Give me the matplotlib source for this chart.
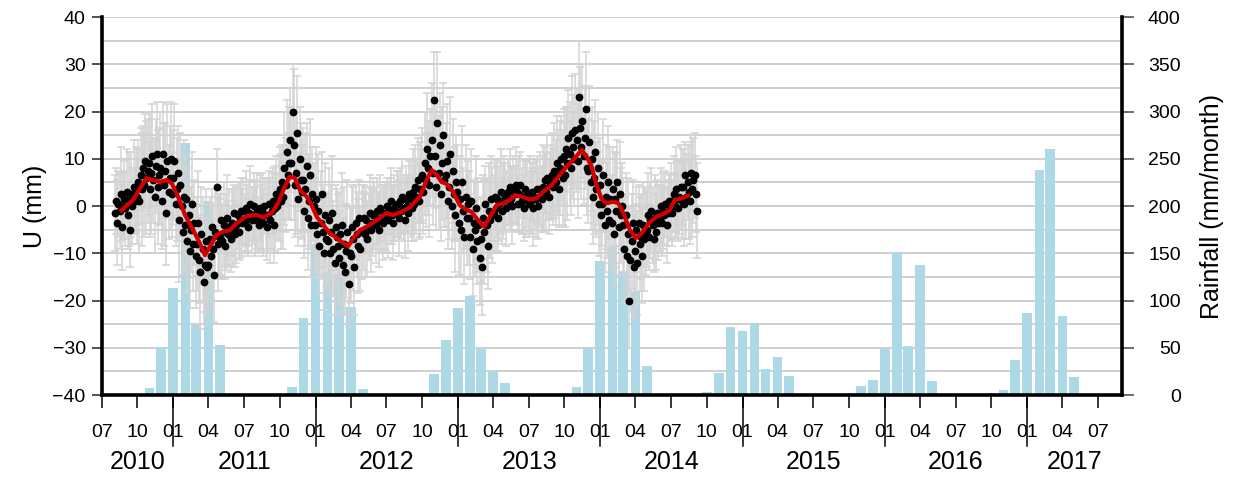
import matplotlib
matplotlib.use('Agg')
import matplotlib.pyplot as plt
import matplotlib.dates as mdates
from matplotlib.ticker import MultipleLocator
import matplotlib.transforms as mtransforms
import pandas as pd

plt.rcParams['font.family'] = ['Liberation Sans', 'DejaVu Sans']

# 月雨量 (mm/month), 2010-07 ~ 2017-08
rain_start = '2010-07-01'
rain = [0, 0, 1, 1, 7, 51,
        113, 267, 74, 205, 53, 1, 0, 0, 1, 1, 8, 82,
        160, 130, 128, 93, 6, 1, 0, 0, 1, 2.5, 22, 58.5,
        92, 105, 49, 25, 13, 1, 1, 0, 1, 2.5, 9, 50,
        142, 158, 131, 110, 31, 1, 1, 0, 1.5, 3, 23, 72,
        68, 76, 27.5, 40, 20, 1.5, 1.5, 0, 1, 2.5, 9.5, 16,
        49, 151, 52, 138, 15, 1, 1, 0, 1, 2, 5.5, 37,
        87, 238, 260, 84, 19, 0, 0, 0]

# 位移觀測 (每 3 天一筆), 每列約一個月
u_start = '2010-08-04'
u_vals = [
    -1.5, 1.0, -3.5, 0.5, -1.0, 2.5, -4.5, 0.0, 1.5,                # 2010-08
    -0.5, 3.0, -2.0, 1.5, -5.0, 2.5, 0.0, 4.0, 1.0, 3.5,
    2.0, 5.0, 1.0, 6.5, 3.5, 8.0, 4.5, 9.5, 6.0, 7.5,
    9.0, 3.5, 7.0, 10.5, 5.5, 2.0, 8.5, 11.0, 4.0, 6.5,
    8.0, 1.0, 11.0, 4.5, 7.5, -1.5, 9.5, 3.0, 6.0, 10.0, 2.5,
    6.0, 9.5, 0.5, 3.5, 7.0, -3.0, 4.5, 0.0, -5.5, 2.0,             # 2011-01
    -4.0, 1.5, -7.5, -2.0, -9.5, -5.0, 0.5, -8.0, -3.5, -10.5,
    -8.0, -3.5, -11.5, -14.0, -6.0, -9.0, -16.0, -12.5, -7.5, -13.0,
    -12.5, -7.0, -10.5, -4.5, -9.0, -14.5, -5.5, 4.0, -8.0, -6.5,
    -6.5, -3.0, -7.5, -4.0, -8.5, -5.5, -2.5, -6.0, -4.5, -7.0,
    -3.5, -5.0, -1.5, -6.0, -4.0, -2.0, -5.5, -3.0, -1.0, -3.5,
    -1.0, -3.5, -0.5, -2.5, -4.5, -1.5, 0.5, -3.0, -2.0, 0.0, -2.5,
    -3.0, -1.0, -4.0, -0.5, -2.5, -1.0, -3.5, 0.0, -2.0, -4.5,
    -2.0, 0.5, -3.0, -1.0, 1.0, -4.0, -0.5, 2.5, 0.0, 1.5,
    3.5, 1.0, 5.0, 2.0, 8.0, 4.5, 11.5, 6.5, 9.0, 14.0,
    9.0, 20.0, 13.0, 4.5, 7.0, 15.5, 1.5, 10.0, 5.5, 3.0,
    5.5, -1.0, 3.5, 8.5, -2.5, 1.0, 6.5, -4.0, 2.5, 0.0,
    -4.0, 1.5, -6.0, -1.0, -8.5, -3.5, 2.5, -5.5, -10.0, -2.0, -7.0,  # 2012-01
    -7.5, -3.0, -10.0, -5.5, -1.5, -9.0, -12.0, -4.5, -6.5, -8.5,
    -11.0, -6.0, -4.0, -12.5, -8.0, -14.0, -9.5, -5.5, -16.5, -10.0,
    -10.5, -4.5, -7.0, -13.0, -3.5, -6.0, -8.5, -2.5, -9.0, -5.5,
    -5.5, -2.5, -6.0, -3.0, -7.0, -4.5, -1.5, -5.0, -3.5, -2.0,
    -2.0, -4.0, -1.0, -3.0, -5.0, -0.5, -2.5, -3.5, -1.5, -2.0,
    -2.5, 0.0, -3.0, -1.0, 1.0, -2.0, -3.5, -0.5, -1.5, 0.5,
    0.5, -2.5, 1.0, -1.0, 2.0, -0.5, -3.0, 1.5, 0.0, -1.5, 2.5,
    1.5, -0.5, 3.0, 0.5, 4.0, 2.0, 5.5, 1.0, 3.5, 6.0,
    6.5, 3.0, 9.0, 5.5, 12.0, 8.0, 4.5, 10.5, 14.0, 7.0,
    22.5, 10.5, 4.0, 17.5, 7.0, 13.0, 2.5, 9.0, 15.0, 5.5,
    6.5, 9.5, 1.0, 4.0, 11.0, 0.0, 7.5, 2.5, -2.0, 5.0,
    3.0, -3.5, 1.5, -5.0, 5.0, -1.0, -6.5, 2.0, -2.5, 0.5,           # 2013-01
    -2.5, -6.5, 1.0, -9.0, -3.5, -5.0, -0.5, -7.5, -4.0, -11.0,
    -7.0, -13.0, -2.5, -5.5, 0.5, -4.0, -8.5, -1.0, -3.0, 1.5, -2.0,
    -1.5, 2.0, -0.5, 1.5, -2.5, 0.5, 3.0, -1.0, 1.0, 2.5,
    2.0, -0.5, 3.0, 1.0, 4.0, 1.5, 0.0, 3.5, 2.5, 4.5,
    3.0, 0.5, 2.5, 4.5, 1.0, 2.0, -0.5, 3.5, 1.5, 2.5,
    0.5, 2.5, 1.0, 3.0, -0.5, 2.0, 1.5, 3.5, 0.0, 2.0,
    3.5, 1.5, 4.0, 2.5, 5.5, 3.0, 6.0, 2.0, 4.5, 5.0,
    6.5, 4.0, 7.5, 5.0, 9.0, 7.0, 3.5, 8.0, 10.0, 6.0,
    10.5, 6.5, 12.0, 9.0, 14.5, 11.0, 8.0, 15.5, 12.5, 10.0, 16.0,
    14.0, 9.5, 23.0, 16.5, 12.5, 18.0, 10.5, 14.5, 20.5, 8.0,
    7.5, 13.5, 5.0, 10.0, 2.0, 6.0, 11.5, 3.5, 8.0, 0.5,
    4.5, -2.0, 0.5, 6.5, -4.0, 2.0, -1.0, 5.0, -3.0, 1.5,           # 2014-01
    -3.5, 3.5, -6.0, 1.5, -1.0, 5.0, -4.5, 2.5, -2.0, 0.0,
    -4.0, -9.0, -2.0, -10.5, -6.0, -20.0, -11.5, -7.5, -3.5, -13.0,
    -9.5, -5.0, -12.0, -3.5, -8.0, -6.5, -10.5, -4.0, -7.0, -5.5,
    -5.0, -2.0, -6.5, -3.0, -1.0, -4.0, -7.0, -2.5, -5.5, -1.5, -3.5,
    -2.5, 0.0, -3.5, -1.0, -2.0, 0.5, -4.0, -1.5, 1.0, -0.5,
    1.0, -1.5, 2.5, 0.0, 3.5, 1.5, -0.5, 2.0, 4.0, 1.0,
    4.0, 0.5, 6.5, 2.0, 5.0, 3.0, 1.0, 7.0, 3.5, 5.5,
    6.5, 2.5, -1.0]
u_err = [
    8, 7, 9, 7, 8, 10, 9, 7, 8,
    8, 9, 7, 10, 8, 9, 8, 10, 7, 9,
    10, 9, 11, 10, 12, 9, 11, 10, 12, 11,
    11, 10, 13, 11, 9, 12, 10, 11, 12, 10,
    12, 10, 11, 13, 10, 11, 12, 10, 11, 12, 9,
    10, 12, 9, 11, 10, 13, 11, 10, 9, 12,
    10, 9, 11, 10, 12, 9, 11, 10, 9, 11,
    10, 11, 9, 12, 10, 11, 9, 10, 11, 10,
    10, 9, 11, 8, 9, 10, 9, 8, 10, 9,
    8, 7, 8, 9, 7, 8, 9, 7, 8, 7,
    7, 8, 6, 7, 8, 7, 6, 8, 7, 7,
    7, 6, 8, 7, 6, 7, 8, 7, 6, 7, 8,
    7, 8, 6, 7, 7, 8, 7, 6, 8, 7,
    8, 7, 9, 8, 7, 8, 9, 8, 7, 9,
    9, 10, 8, 11, 12, 10, 11, 9, 12, 11,
    12, 10, 16, 11, 13, 12, 10, 11, 12, 10,
    11, 10, 12, 9, 11, 10, 12, 11, 10, 9,
    10, 11, 9, 12, 10, 11, 9, 10, 12, 11, 10,
    10, 11, 9, 10, 12, 10, 11, 9, 10, 11,
    10, 9, 11, 10, 12, 9, 10, 11, 9, 10,
    10, 9, 11, 10, 8, 9, 10, 8, 9, 10,
    8, 7, 9, 7, 8, 7, 8, 9, 7, 8,
    7, 8, 7, 6, 8, 7, 7, 8, 6, 7,
    7, 6, 8, 7, 7, 6, 8, 7, 6, 7,
    7, 8, 7, 6, 8, 7, 8, 7, 6, 8, 7,
    8, 7, 9, 8, 9, 8, 9, 8, 10, 9,
    10, 9, 11, 10, 12, 10, 11, 10, 12, 11,
    10, 11, 9, 15, 12, 11, 10, 12, 11, 10,
    11, 12, 10, 11, 12, 9, 11, 10, 12, 10,
    10, 11, 9, 10, 12, 9, 10, 11, 10, 9,
    10, 9, 11, 10, 9, 10, 11, 9, 10, 10,
    9, 10, 9, 11, 8, 10, 9, 10, 8, 9, 10,
    8, 7, 9, 8, 7, 8, 9, 7, 8, 8,
    7, 8, 7, 6, 8, 7, 8, 7, 6, 8,
    7, 6, 8, 7, 7, 8, 7, 6, 8, 7,
    7, 8, 7, 6, 8, 7, 8, 7, 7, 6,
    8, 7, 9, 8, 7, 8, 9, 8, 7, 8,
    9, 8, 10, 9, 10, 9, 8, 10, 9, 10,
    10, 11, 9, 12, 10, 11, 10, 12, 11, 10, 12,
    11, 12, 12, 13, 11, 12, 10, 11, 12, 10,
    11, 12, 10, 11, 10, 12, 11, 10, 12, 11,
    10, 11, 9, 12, 10, 11, 10, 12, 9, 11,
    10, 9, 11, 10, 12, 9, 10, 11, 10, 9,
    10, 11, 9, 10, 12, 10, 11, 10, 9, 11,
    10, 9, 11, 8, 10, 9, 10, 9, 11, 9,
    8, 9, 7, 8, 9, 8, 7, 9, 8, 7, 8,
    7, 8, 7, 8, 6, 7, 8, 7, 6, 7,
    8, 7, 8, 7, 9, 8, 7, 8, 9, 8,
    8, 9, 7, 9, 8, 10, 9, 8, 10, 9,
    9, 8, 10]

# 平滑曲線 (紅線)
red_dates = ['2010-08-21', '2010-09-20', '2010-10-07', '2010-10-24', '2010-11-10', '2010-11-28',
             '2010-12-15', '2010-12-28',
             '2011-01-13', '2011-01-31', '2011-02-21', '2011-03-10', '2011-03-23', '2011-04-05',
             '2011-04-22', '2011-05-09', '2011-05-26', '2011-06-12', '2011-07-08', '2011-08-03',
             '2011-08-20', '2011-09-10', '2011-09-27', '2011-10-14', '2011-10-27', '2011-11-09',
             '2011-11-22', '2011-12-09', '2011-12-22',
             '2012-01-04', '2012-01-21', '2012-02-07', '2012-02-20', '2012-03-08', '2012-03-25',
             '2012-04-07', '2012-04-24', '2012-05-11', '2012-06-06', '2012-07-01', '2012-07-18',
             '2012-08-09', '2012-08-30', '2012-09-25', '2012-10-12', '2012-10-25', '2012-11-07',
             '2012-11-19', '2012-12-02', '2012-12-19',
             '2013-01-05', '2013-01-23', '2013-02-04', '2013-02-21', '2013-03-08', '2013-03-24',
             '2013-04-10', '2013-04-27', '2013-05-14', '2013-05-27', '2013-06-13', '2013-07-04',
             '2013-07-21', '2013-08-07', '2013-08-29', '2013-09-19', '2013-10-06', '2013-10-23',
             '2013-11-14', '2013-11-27', '2013-12-09', '2013-12-22',
             '2014-01-04', '2014-01-17', '2014-02-03', '2014-02-16', '2014-03-01', '2014-03-18',
             '2014-04-02', '2014-04-17', '2014-05-04', '2014-05-25', '2014-06-16', '2014-06-28',
             '2014-07-11', '2014-07-28', '2014-08-14']
red_vals = [-0.9, 1.3, 3.7, 5.9, 5.5, 5.1, 5.5, 4.8,
            2.0, -1.9, -5.1, -7.9, -10.4, -8.6, -6.1, -5.4, -5.1, -3.7, -2.1, -1.9,
            -2.4, -1.5, 0.6, 4.1, 6.2, 5.9, 3.4, 2.0, 0.2,
            -2.3, -4.0, -5.8, -6.5, -7.6, -8.5, -6.8, -5.1, -4.4, -3.0, -1.5, -1.9,
            -1.2, -0.3, 2.0, 5.5, 7.6, 6.6, 5.1, 4.7, 3.0,
            0.2, -0.85, -1.2, -3.0, -4.4, -2.3, 0.2, 0.6, 1.3, 2.3, 2.0, 1.4,
            1.6, 3.0, 4.4, 6.6, 8.3, 9.7, 11.9, 10.4, 8.5, 4.5,
            1.5, 0.6, 0.9, 0.6, -1.5, -5.1, -6.8, -5.8, -3.7, -2.3, -1.5, -0.85,
            1.3, 1.6, 2.2]

years = [2010, 2011, 2012, 2013, 2014, 2015, 2016, 2017]
x_min = pd.Timestamp('2010-07-01')
x_max = pd.Timestamp('2017-08-31')


def draw_chart():
    fig = plt.figure(figsize=(12.38, 4.78), dpi=100)
    ax = fig.add_axes([0.0821, 0.1736, 0.8239, 0.7908])
    ax2 = ax.twinx()
    ax.set_zorder(ax2.get_zorder() + 1)
    ax.patch.set_visible(False)
    ax2.patch.set_visible(False)

    # 雨量柱狀圖 (右軸)
    rain_months = pd.date_range(rain_start, periods=len(rain), freq='MS')
    ax2.bar(rain_months, rain, width=25, color='#add8e6', zorder=2)
    ax2.set_ylim(0, 400)
    ax2.set_yticks(range(0, 401, 50))
    ax2.yaxis.set_minor_locator(MultipleLocator(25))
    ax2.grid(axis='y', which='both', color='#cccccc', lw=1.3)
    ax2.set_axisbelow(True)
    ax2.tick_params(axis='y', which='major', length=8.5, width=1.2, color='#555555',
                    labelsize=14, pad=34)
    ax2.tick_params(axis='y', which='minor', length=0)
    for lbl in ax2.get_yticklabels():
        lbl.set_horizontalalignment('right')
    ax2.set_ylabel('Rainfall (mm/month)', fontsize=18, labelpad=14)
    for s in ['top', 'left', 'bottom']:
        ax2.spines[s].set_visible(False)
    ax2.spines['right'].set_linewidth(2.6)

    # 位移觀測點與誤差棒
    u_dates = pd.date_range(u_start, periods=len(u_vals), freq='3D')
    ax.errorbar(u_dates, u_vals, yerr=u_err, fmt='none', ecolor='#d3d3d3',
                elinewidth=1.1, capsize=3, capthick=1.1, zorder=2)
    ax.plot(u_dates, u_vals, 'o', color='black', ms=4.6, mec='black', zorder=3)
    ax.plot(pd.to_datetime(red_dates), red_vals, color='#d40000', lw=3, zorder=4)

    ax.set_ylim(-40, 40)
    ax.set_yticks(range(-40, 41, 10))
    ax.set_xlim(x_min, x_max)
    ax.set_ylabel('U (mm)', fontsize=18, labelpad=4)
    ax.tick_params(axis='y', length=7.5, width=1.2, color='#333333', labelsize=14, pad=4)

    ax.xaxis.set_major_locator(mdates.MonthLocator(bymonth=[1, 4, 7, 10]))
    ax.xaxis.set_major_formatter(mdates.DateFormatter('%m'))
    ax.tick_params(axis='x', length=9.5, width=1.1, color='black', labelsize=14, pad=11.5)

    for s in ['top', 'right']:
        ax.spines[s].set_visible(False)
    ax.spines['left'].set_linewidth(2.6)
    ax.spines['bottom'].set_linewidth(2.6)

    # 一月的長刻度與年份標籤
    trans = mtransforms.blended_transform_factory(ax.transData, ax.transAxes)
    for yr in years:
        jan = pd.Timestamp(f'{yr}-01-01')
        if x_min < jan < x_max:
            ax.axvline(jan, ymin=-0.135, ymax=0, color='black', lw=1.1, clip_on=False)
        lo = max(jan, x_min)
        hi = min(pd.Timestamp(f'{yr + 1}-01-01'), x_max)
        mid = lo + (hi - lo) / 2
        ax.text(mid, -0.178, str(yr), transform=trans, ha='center', va='center',
                fontsize=18)

    fig.savefig('out.png', dpi=100)


if __name__ == '__main__':
    draw_chart()
